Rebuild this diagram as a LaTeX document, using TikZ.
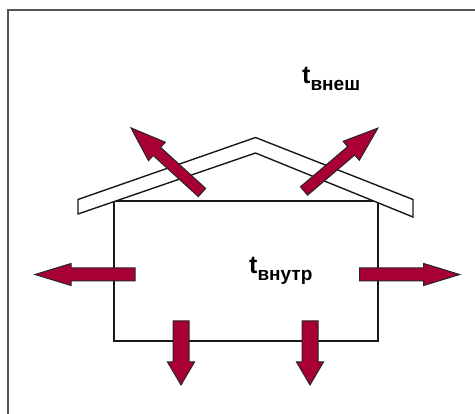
\documentclass[tikz,border=0pt]{standalone}
\usepackage{fontspec}
\setmainfont{Liberation Sans}
\definecolor{heat}{HTML}{A80034}
\definecolor{framegray}{HTML}{555555}
\tikzset{
  heatarrow/.style={fill=heat, draw=black!85, line width=1pt, line join=miter},
  wall/.style={draw=black!90, line width=1.4pt},
  roofshape/.style={fill=white, draw=black!90, line width=1.4pt, line join=miter},
  frameline/.style={draw=framegray, line width=1.8pt},
  label/.style={inner sep=0pt, anchor=base west, font=\bfseries}
}
% #1 x, #2 y (tail centre), #3 angle, #4 length, #5 shaft half width, #6 head half width, #7 head length
\newcommand{\heatarr}[7]{%
  \begin{scope}[shift={(#1,#2)}, rotate=#3]
    \path[heatarrow] (0,-#5) -- ({#4-#7},-#5) -- ({#4-#7},-#6) -- (#4,0)
      -- ({#4-#7},#6) -- ({#4-#7},#5) -- (0,#5) -- cycle;
  \end{scope}}
\begin{document}
\begin{tikzpicture}[x=1pt, y=-1pt]
\useasboundingbox (0,0) rectangle (475,414);
% outer frame
\draw[frameline] (8,420) -- (8,10) -- (480,10);
% house
\draw[wall] (114,201) rectangle (378,341);
% roof
\path[roofshape] (78,199.5) -- (255.5,137.5) -- (413,199.5) -- (413,217)
  -- (255.5,153) -- (78,214) -- cycle;
% arrows
\heatarr{202}{192.5}{137.7}{96}{5.5}{12.5}{35}
\heatarr{304}{191}{40.4}{97}{5.5}{12.5}{35}
\heatarr{135}{274.5}{180}{100}{6.5}{11}{36}
\heatarr{359.7}{274.5}{0}{100}{6.5}{11}{36}
\heatarr{181}{321}{-90}{64}{8}{13.5}{23}
\heatarr{310}{321}{-90}{64}{8}{13.5}{23}
% labels
\node[label] (tout) at (302,84) {\fontsize{25}{25}\selectfont t\raisebox{-7pt}{\fontsize{19}{19}\selectfont внеш}};
\node[label] (tin) at (249,274) {\fontsize{25}{25}\selectfont t\raisebox{-7pt}{\fontsize{19}{19}\selectfont внутр}};
\end{tikzpicture}
\end{document}
